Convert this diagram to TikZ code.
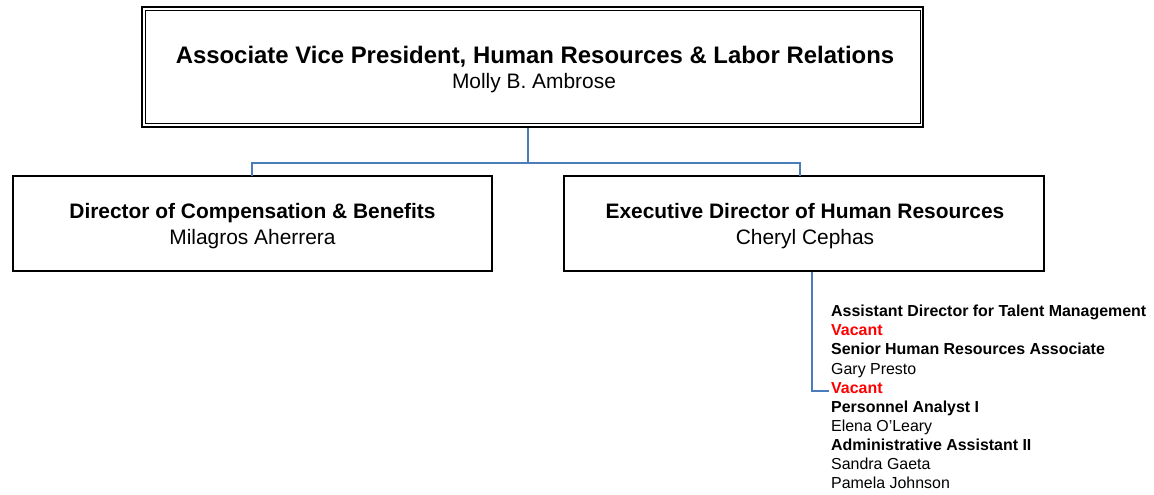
\documentclass[tikz,border=0pt]{standalone}
\usepackage{fontspec}
\setmainfont{Liberation Sans}
\definecolor{linkblue}{HTML}{4A7EBB}
\definecolor{vacred}{HTML}{FF0000}
\tikzset{
  orgbox/.style={draw=black, line width=2.4bp, inner sep=0pt, align=center,
    font=\fontsize{21}{25}\selectfont},
  boxtext/.style={inner sep=0pt, align=center, font=\fontsize{21}{25}\selectfont},
  link/.style={draw=linkblue, line width=2bp},
  listtext/.style={inner sep=0pt, align=left, anchor=north west,
    font=\fontsize{16}{19.2}\selectfont},
}
\newcommand{\vac}[1]{\textcolor{vacred}{\textbf{#1}}}
\begin{document}
\begin{tikzpicture}[x=1bp, y=-1bp]
\useasboundingbox (0,0) rectangle (1154,495);
% top box
\node[orgbox, line width=2.8bp, minimum width=781bp, minimum height=120bp] (avp) at (532.5,67) {};
\draw[line width=1.3bp] ([shift={(5bp,-5bp)}]avp.north west) rectangle ([shift={(-4bp,5bp)}]avp.south east);
\node[boxtext, anchor=base] (avptitle) at (535,63.3)
  {\fontsize{24}{25}\selectfont\textbf{Associate Vice President, Human Resources \& Labor Relations}};
\node[boxtext, anchor=base] (avpname) at (534,88.3) {Molly B. Ambrose};
% second level
\node[orgbox, minimum width=479bp, minimum height=95bp] (comp) at (252.5,223.5) {};
\node[boxtext, anchor=base] (comptitle) at (252.5,218.5) {\textbf{Director of Compensation \& Benefits}};
\node[boxtext, anchor=base] (compname) at (252.5,244.5) {Milagros Aherrera};
\node[orgbox, minimum width=480bp, minimum height=95bp] (exec) at (804,223.5) {};
\node[boxtext, anchor=base] (exectitle) at (805,218.5) {\textbf{Executive Director of Human Resources}};
\node[boxtext, anchor=base] (execname) at (805,244.5) {Cheryl Cephas};
% connectors
\coordinate (bus) at (528,163.5);
\draw[link] (avp.south -| bus) -- (bus);
\draw[link] (252,176) |- (bus) -| (800,176);
% staff list
\node[listtext] (staff) at (831,304.9)
  {\textbf{Assistant Director for Talent Management}\\
   \vac{Vacant}\\
   \textbf{Senior Human Resources Associate}\\
   Gary Presto\\
   \vac{Vacant}\\
   \textbf{Personnel Analyst I}\\
   Elena O’Leary\\
   \textbf{Administrative Assistant II}\\
   Sandra Gaeta\\
   Pamela Johnson};
\coordinate (stafftap) at (828.5,391);
\draw[link] (exec.south -| 811.5,0) |- (stafftap);
\end{tikzpicture}
\end{document}
